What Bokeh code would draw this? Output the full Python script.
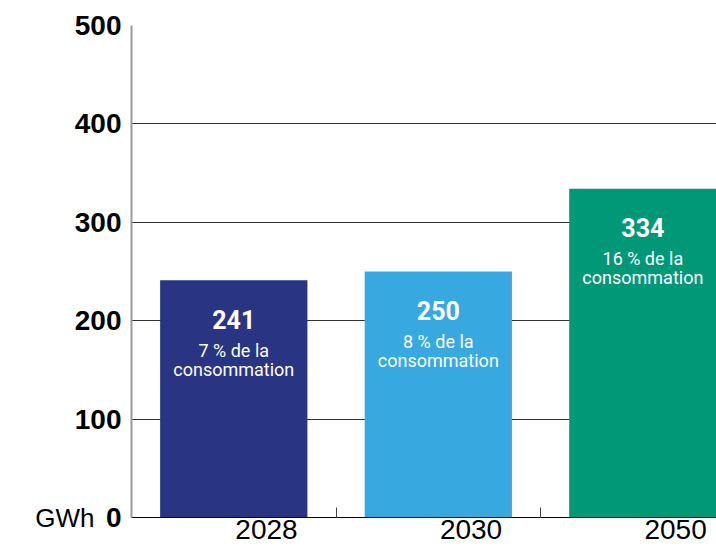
from bokeh.plotting import figure
from bokeh.models import ColumnDataSource, FixedTicker, Range1d, LinearAxis
from bokeh.core.properties import value
from bokeh.embed import file_html
from bokeh.resources import INLINE

# ---- data ----
years = ["2028", "2030", "2050"]
gwh = [241, 250, 334]
share_text = ["7 % de la", "8 % de la", "16 % de la"]
share_text2 = ["consommation", "consommation", "consommation"]
bar_colors = ["#293583", "#37a9e0", "#009877"]
y_ticks = [0, 100, 200, 300, 400, 500]
unit_label = "GWh"

idx = list(range(len(years)))
src = ColumnDataSource(dict(
    x=idx, top=gwh, num=[str(v) for v in gwh],
    l1=share_text, l2=share_text2, color=bar_colors,
))

p = figure(width=716, height=551, output_backend="svg", toolbar_location=None,
           x_range=Range1d(-0.5, 2.36), y_range=Range1d(0, 500),
           min_border_left=131, min_border_right=0, min_border_top=25,
           min_border_bottom=34)
p.outline_line_color = None
p.background_fill_color = "white"
p.border_fill_color = "white"

p.xgrid.visible = False
p.ygrid.ticker = FixedTicker(ticks=y_ticks)
p.ygrid.grid_line_color = "#333333"
p.ygrid.grid_line_width = 1

# bars
p.vbar(x="x", top="top", width=0.72, bottom=0, color="color", line_color=None, source=src)

# in-bar texts
p.text(x="x", y="top", text="num", y_offset=39, text_align="center",
       text_baseline="middle", text_color="white", text_font=value("Roboto"),
       text_font_style="bold", text_font_size="25px", source=src)
p.text(x="x", y="top", text="l1", y_offset=70, text_align="center",
       text_baseline="middle", text_color="white", text_font=value("Roboto"),
       text_font_size="18px", source=src)
p.text(x="x", y="top", text="l2", y_offset=89, text_align="center",
       text_baseline="middle", text_color="white", text_font=value("Roboto"),
       text_font_size="18px", source=src)

# y axis
yax = p.yaxis[0]
yax.ticker = FixedTicker(ticks=y_ticks)
yax.major_label_text_font = "Liberation Sans"
yax.major_label_text_font_style = "bold"
yax.major_label_text_font_size = "28px"
yax.major_label_text_color = "black"
yax.major_tick_in = 0
yax.major_tick_out = 0
yax.minor_tick_in = 0
yax.minor_tick_out = 0
yax.major_label_standoff = 10
yax.axis_line_color = "#999999"
yax.axis_line_width = 2

# unit axis ("GWh" next to the 0)
uax = LinearAxis(ticker=FixedTicker(ticks=[0]),
                 major_label_overrides={0: unit_label})
uax.major_label_text_font = "Liberation Sans"
uax.major_label_text_font_size = "26px"
uax.major_label_text_color = "black"
uax.major_tick_in = 0
uax.major_tick_out = 0
uax.minor_tick_in = 0
uax.minor_tick_out = 0
uax.axis_line_color = None
uax.major_label_standoff = -23
p.add_layout(uax, "left")

# x axis
xax = p.xaxis[0]
label_pos = [i + 0.16 for i in idx]
xax.ticker = FixedTicker(ticks=label_pos, minor_ticks=[i + 0.5 for i in idx[:-1]])
xax.major_label_overrides = {pos: y for pos, y in zip(label_pos, years)}
xax.major_label_text_font = "Liberation Sans"
xax.major_label_text_font_size = "28px"
xax.major_label_text_color = "black"
xax.major_tick_in = 0
xax.major_tick_out = 0
xax.minor_tick_in = 10
xax.minor_tick_out = 0
xax.minor_tick_line_color = "#444444"
xax.major_label_standoff = 2
xax.axis_line_color = "black"
xax.axis_line_width = 1

open("out.html", "w").write(file_html(p, INLINE))
